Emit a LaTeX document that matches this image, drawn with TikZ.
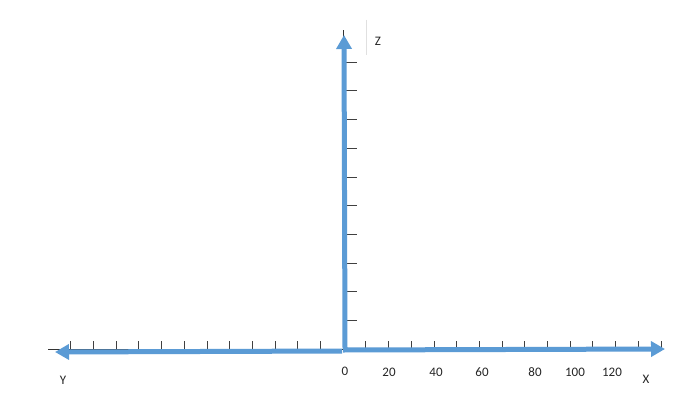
\documentclass[tikz,border=0pt]{standalone}
\usepackage{fontspec}
\setmainfont{Carlito}
\usetikzlibrary{arrows.meta}
\definecolor{axisblue}{RGB}{91,155,213}
\begin{document}
\begin{tikzpicture}[x=1pt,y=-1pt,
  thinaxis/.style={draw=black!80,line width=0.6pt},
  tickmark/.style={draw=black!75,line width=0.6pt},
  bluearrow/.style={draw=axisblue,line width=5pt,-{Triangle[length=14pt,width=15pt]}},
  lbl/.style={font=\fontsize{13}{15}\selectfont,text=black!85,inner sep=0pt}]
\useasboundingbox (0,0) rectangle (687,404);
\fill[white] (0,0) rectangle (687,404);
% coordinates
\coordinate (O) at (343,349);
\coordinate (Lthin) at (48,349);
\coordinate (Rthin) at (660,349);
\coordinate (Tthin) at (343,30);
\coordinate (Bl) at (343,351);
\coordinate (Ystart) at (342,351);
\coordinate (Yend) at (55,352);
\coordinate (Xstart) at (343,350);
\coordinate (Xend) at (665,349);
\coordinate (Zstart) at (345,349);
\coordinate (Zend) at (344,35);
\coordinate (Ftop) at (366,20);
\coordinate (Fbot) at (366,55);
% faint frame line
\draw[black!12,line width=0.5pt] (Ftop) -- (Fbot);
% thin axes
\draw[thinaxis] (Lthin) -- (Rthin);
\draw[thinaxis] (O) -- (Tthin);
% ticks on horizontal axis
\foreach \k in {1,...,14} {\draw[tickmark] (343+22.7*\k,349) -- ++(0,-8);}
\foreach \k in {1,...,12} {\draw[tickmark] (343-22.7*\k,349) -- ++(0,-8);}
% ticks on vertical axis
\foreach \k in {1,...,10} {\draw[tickmark] (345,349-28.7*\k) -- ++(12,0);}
% blue axes
\draw[bluearrow] (Ystart) -- (Yend);
\draw[bluearrow] (Xstart) -- (Xend);
\draw[bluearrow] (Zstart) -- (Zend);
% labels
\node[lbl] (l0) at (345,371) {0};
\node[lbl] (l20) at (389,372) {20};
\node[lbl] (l40) at (436,372) {40};
\node[lbl] (l60) at (482,372) {60};
\node[lbl] (l80) at (535,372) {80};
\node[lbl] (l100) at (575,372) {100};
\node[lbl] (l120) at (612,372) {120};
\node[lbl] (lx) at (646,379) {X};
\node[lbl] (ly) at (63,380) {Y};
\node[lbl] (lz) at (378,41) {Z};
\end{tikzpicture}
\end{document}
